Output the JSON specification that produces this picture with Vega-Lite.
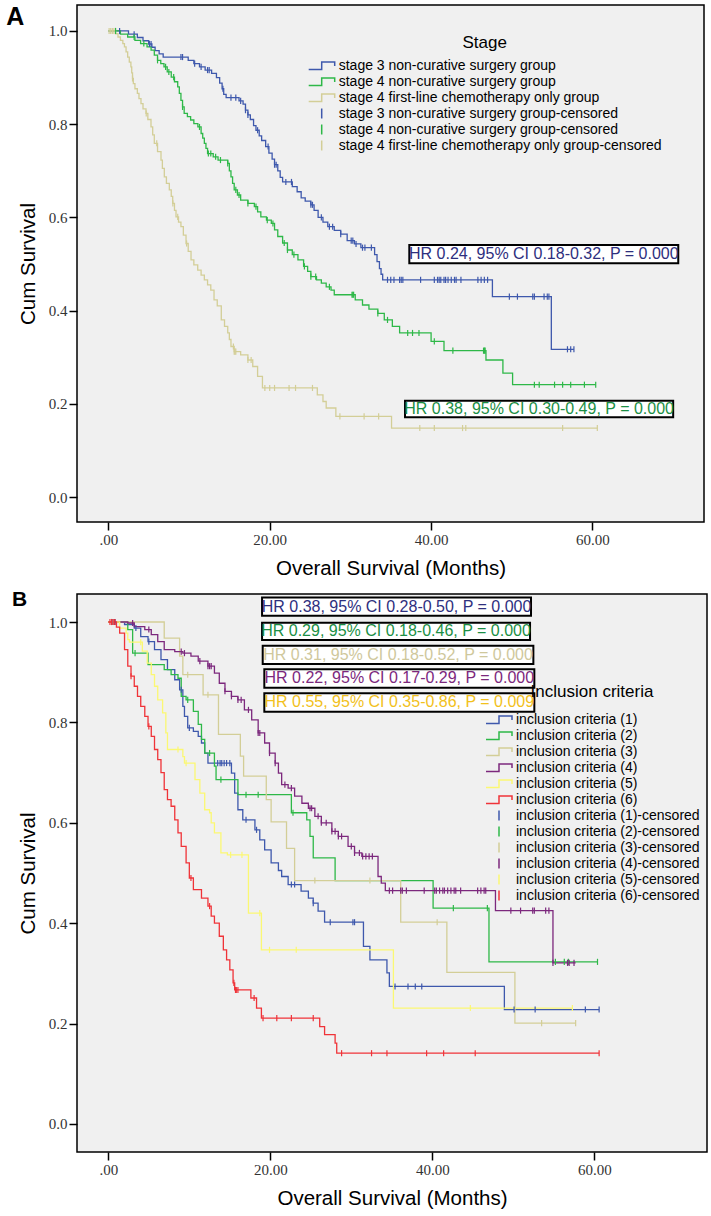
{
"$schema":"https://vega.github.io/schema/vega-lite/v6.json",
"padding":{"left":5,"top":4,"right":0,"bottom":0},
"background":"white",
"config":{
 "view":{"fill":"#f0f0f0","stroke":"#000","strokeWidth":1.5},
 "font":"Liberation Sans",
 "axis":{"domain":false,"grid":false,"ticks":true,"tickColor":"#000","tickWidth":1.5,"tickSize":8,"labelFont":"Liberation Serif","labelFontSize":15,"labelColor":"#333","titleFont":"Liberation Sans","titleFontSize":20.5,"titleFontWeight":"normal","titleColor":"#000"},
 "legend":{"labelFont":"Liberation Sans","labelFontSize":14,"labelColor":"#000","labelLimit":600,"titleFont":"Liberation Sans","titleFontSize":17,"titleFontWeight":"normal","titleColor":"#000","titleAnchor":"middle","symbolSize":676,"symbolStrokeWidth":1.5,"symbolFillColor":"transparent","symbolOpacity":1,"clipHeight":16,"rowPadding":0,"labelOffset":3,"padding":0},
 "title":{"font":"Liberation Sans","fontWeight":"bold","color":"#000"}
},
"datasets":{
 "namesA":[{"g":"a","name":"stage 3 non-curative surgery group"},{"g":"b","name":"stage 4 non-curative surgery group"},{"g":"c","name":"stage 4 first-line chemotherapy only group"},{"g":"ac","name":"stage 3 non-curative surgery group-censored"},{"g":"bc","name":"stage 4 non-curative surgery group-censored"},{"g":"cc","name":"stage 4 first-line chemotherapy only group-censored"}],
 "namesB":[{"g":"1","name":"inclusion criteria (1)"},{"g":"2","name":"inclusion criteria (2)"},{"g":"3","name":"inclusion criteria (3)"},{"g":"4","name":"inclusion criteria (4)"},{"g":"5","name":"inclusion criteria (5)"},{"g":"6","name":"inclusion criteria (6)"},{"g":"1c","name":"inclusion criteria (1)-censored"},{"g":"2c","name":"inclusion criteria (2)-censored"},{"g":"3c","name":"inclusion criteria (3)-censored"},{"g":"4c","name":"inclusion criteria (4)-censored"},{"g":"5c","name":"inclusion criteria (5)-censored"},{"g":"6c","name":"inclusion criteria (6)-censored"}],
 "curvesA":[
{"g":"a","t":0,"s":1},{"g":"a","t":2.5,"s":0.993},{"g":"a","t":3.6,"s":0.986},{"g":"a","t":4.3,"s":0.979},{"g":"a","t":5.0,"s":0.972},{"g":"a","t":5.4,"s":0.965},{"g":"a","t":5.8,"s":0.958},{"g":"a","t":6.3,"s":0.951},{"g":"a","t":6.8,"s":0.944},{"g":"a","t":9.9,"s":0.937},{"g":"a","t":10.6,"s":0.93},{"g":"a","t":11.3,"s":0.923},{"g":"a","t":12.0,"s":0.916},{"g":"a","t":12.8,"s":0.909},{"g":"a","t":13.4,"s":0.9},{"g":"a","t":13.8,"s":0.888},{"g":"a","t":14.1,"s":0.876},{"g":"a","t":14.3,"s":0.864},{"g":"a","t":14.6,"s":0.857},{"g":"a","t":16.2,"s":0.85},{"g":"a","t":16.7,"s":0.843},{"g":"a","t":17.0,"s":0.83},{"g":"a","t":17.3,"s":0.82},{"g":"a","t":17.6,"s":0.81},{"g":"a","t":18.0,"s":0.797},{"g":"a","t":18.3,"s":0.787},{"g":"a","t":18.7,"s":0.775},{"g":"a","t":19.0,"s":0.765},{"g":"a","t":19.5,"s":0.752},{"g":"a","t":19.9,"s":0.738},{"g":"a","t":20.3,"s":0.725},{"g":"a","t":20.6,"s":0.713},{"g":"a","t":21.0,"s":0.7},{"g":"a","t":21.3,"s":0.686},{"g":"a","t":21.6,"s":0.676},{"g":"a","t":22.8,"s":0.666},{"g":"a","t":23.4,"s":0.655},{"g":"a","t":23.9,"s":0.642},{"g":"a","t":24.4,"s":0.635},{"g":"a","t":25.1,"s":0.627},{"g":"a","t":25.5,"s":0.615},{"g":"a","t":26.0,"s":0.6},{"g":"a","t":26.6,"s":0.59},{"g":"a","t":27.2,"s":0.58},{"g":"a","t":28.0,"s":0.572},{"g":"a","t":28.8,"s":0.564},{"g":"a","t":29.6,"s":0.55},{"g":"a","t":30.5,"s":0.543},{"g":"a","t":31.3,"s":0.535},{"g":"a","t":33.0,"s":0.52},{"g":"a","t":33.3,"s":0.505},{"g":"a","t":33.6,"s":0.49},{"g":"a","t":33.8,"s":0.478},{"g":"a","t":34.0,"s":0.466},{"g":"a","t":47.6,"s":0.43},{"g":"a","t":54.9,"s":0.317},{"g":"a","t":57.7,"s":0.317},
{"g":"b","t":0,"s":1},{"g":"b","t":1.5,"s":0.993},{"g":"b","t":2.4,"s":0.987},{"g":"b","t":3.3,"s":0.98},{"g":"b","t":4.0,"s":0.973},{"g":"b","t":4.8,"s":0.966},{"g":"b","t":5.3,"s":0.959},{"g":"b","t":5.7,"s":0.948},{"g":"b","t":6.1,"s":0.937},{"g":"b","t":6.5,"s":0.93},{"g":"b","t":6.9,"s":0.923},{"g":"b","t":7.3,"s":0.912},{"g":"b","t":7.8,"s":0.901},{"g":"b","t":8.2,"s":0.891},{"g":"b","t":8.6,"s":0.88},{"g":"b","t":8.8,"s":0.866},{"g":"b","t":9.0,"s":0.851},{"g":"b","t":9.2,"s":0.837},{"g":"b","t":9.4,"s":0.823},{"g":"b","t":9.8,"s":0.816},{"g":"b","t":10.2,"s":0.809},{"g":"b","t":10.6,"s":0.801},{"g":"b","t":11.1,"s":0.794},{"g":"b","t":11.5,"s":0.78},{"g":"b","t":11.7,"s":0.77},{"g":"b","t":11.9,"s":0.759},{"g":"b","t":12.1,"s":0.748},{"g":"b","t":12.3,"s":0.737},{"g":"b","t":13.0,"s":0.73},{"g":"b","t":13.6,"s":0.723},{"g":"b","t":14.8,"s":0.716},{"g":"b","t":15.0,"s":0.7},{"g":"b","t":15.2,"s":0.687},{"g":"b","t":15.4,"s":0.673},{"g":"b","t":15.6,"s":0.659},{"g":"b","t":16.0,"s":0.648},{"g":"b","t":16.4,"s":0.637},{"g":"b","t":17.3,"s":0.63},{"g":"b","t":18.1,"s":0.623},{"g":"b","t":18.5,"s":0.612},{"g":"b","t":18.9,"s":0.601},{"g":"b","t":19.6,"s":0.594},{"g":"b","t":20.2,"s":0.587},{"g":"b","t":20.6,"s":0.573},{"g":"b","t":21.0,"s":0.559},{"g":"b","t":21.6,"s":0.545},{"g":"b","t":22.2,"s":0.53},{"g":"b","t":22.8,"s":0.52},{"g":"b","t":23.5,"s":0.509},{"g":"b","t":24.2,"s":0.495},{"g":"b","t":24.7,"s":0.484},{"g":"b","t":25.1,"s":0.473},{"g":"b","t":25.8,"s":0.466},{"g":"b","t":26.4,"s":0.459},{"g":"b","t":27.0,"s":0.451},{"g":"b","t":27.6,"s":0.444},{"g":"b","t":28.0,"s":0.434},{"g":"b","t":30.6,"s":0.423},{"g":"b","t":31.5,"s":0.412},{"g":"b","t":32.3,"s":0.403},{"g":"b","t":33.4,"s":0.394},{"g":"b","t":34.2,"s":0.38},{"g":"b","t":35.2,"s":0.366},{"g":"b","t":36.1,"s":0.352},{"g":"b","t":40.0,"s":0.334},{"g":"b","t":41.6,"s":0.314},{"g":"b","t":46.8,"s":0.294},{"g":"b","t":48.9,"s":0.266},{"g":"b","t":50.1,"s":0.241},{"g":"b","t":60.4,"s":0.241},
{"g":"c","t":0,"s":1},{"g":"c","t":0.9,"s":0.994},{"g":"c","t":1.2,"s":0.987},{"g":"c","t":1.5,"s":0.98},{"g":"c","t":1.8,"s":0.973},{"g":"c","t":2.0,"s":0.966},{"g":"c","t":2.2,"s":0.955},{"g":"c","t":2.4,"s":0.944},{"g":"c","t":2.6,"s":0.933},{"g":"c","t":2.8,"s":0.923},{"g":"c","t":2.9,"s":0.91},{"g":"c","t":3.0,"s":0.898},{"g":"c","t":3.1,"s":0.887},{"g":"c","t":3.3,"s":0.876},{"g":"c","t":3.6,"s":0.866},{"g":"c","t":3.8,"s":0.855},{"g":"c","t":4.05,"s":0.844},{"g":"c","t":4.3,"s":0.833},{"g":"c","t":4.67,"s":0.823},{"g":"c","t":4.9,"s":0.81},{"g":"c","t":5.29,"s":0.794},{"g":"c","t":5.5,"s":0.777},{"g":"c","t":5.7,"s":0.759},{"g":"c","t":6.1,"s":0.741},{"g":"c","t":6.53,"s":0.723},{"g":"c","t":6.7,"s":0.705},{"g":"c","t":6.94,"s":0.687},{"g":"c","t":7.2,"s":0.673},{"g":"c","t":7.56,"s":0.659},{"g":"c","t":7.8,"s":0.645},{"g":"c","t":7.98,"s":0.63},{"g":"c","t":8.2,"s":0.615},{"g":"c","t":8.39,"s":0.601},{"g":"c","t":8.7,"s":0.59},{"g":"c","t":9.0,"s":0.58},{"g":"c","t":9.3,"s":0.562},{"g":"c","t":9.63,"s":0.544},{"g":"c","t":9.9,"s":0.527},{"g":"c","t":10.25,"s":0.509},{"g":"c","t":10.6,"s":0.498},{"g":"c","t":11.08,"s":0.487},{"g":"c","t":11.5,"s":0.476},{"g":"c","t":11.9,"s":0.466},{"g":"c","t":12.3,"s":0.455},{"g":"c","t":12.7,"s":0.444},{"g":"c","t":13.1,"s":0.423},{"g":"c","t":13.5,"s":0.41},{"g":"c","t":14.0,"s":0.38},{"g":"c","t":14.4,"s":0.366},{"g":"c","t":14.8,"s":0.352},{"g":"c","t":15.0,"s":0.338},{"g":"c","t":15.2,"s":0.323},{"g":"c","t":15.6,"s":0.312},{"g":"c","t":16.4,"s":0.305},{"g":"c","t":17.3,"s":0.294},{"g":"c","t":17.9,"s":0.28},{"g":"c","t":18.5,"s":0.259},{"g":"c","t":19.1,"s":0.234},{"g":"c","t":25.9,"s":0.219},{"g":"c","t":26.6,"s":0.205},{"g":"c","t":27.0,"s":0.191},{"g":"c","t":28.2,"s":0.173},{"g":"c","t":35.1,"s":0.148},{"g":"c","t":60.6,"s":0.148}
 ],
 "censA":[
{"g":"ac","t":1.4,"s":1},{"g":"ac","t":3.2,"s":0.993},{"g":"ac","t":5.1,"s":0.972},{"g":"ac","t":5.3,"s":0.972},{"g":"ac","t":9.0,"s":0.944},{"g":"ac","t":9.2,"s":0.944},{"g":"ac","t":10.7,"s":0.93},{"g":"ac","t":11.5,"s":0.923},{"g":"ac","t":12.3,"s":0.916},{"g":"ac","t":12.5,"s":0.916},{"g":"ac","t":14.2,"s":0.876},{"g":"ac","t":15.2,"s":0.857},{"g":"ac","t":15.8,"s":0.857},{"g":"ac","t":16.4,"s":0.85},{"g":"ac","t":17.0,"s":0.83},{"g":"ac","t":17.3,"s":0.82},{"g":"ac","t":18.5,"s":0.787},{"g":"ac","t":19.8,"s":0.752},{"g":"ac","t":20.6,"s":0.713},{"g":"ac","t":20.8,"s":0.713},{"g":"ac","t":22.0,"s":0.676},{"g":"ac","t":22.7,"s":0.676},{"g":"ac","t":25.1,"s":0.627},{"g":"ac","t":25.3,"s":0.627},{"g":"ac","t":26.4,"s":0.6},{"g":"ac","t":27.4,"s":0.58},{"g":"ac","t":27.8,"s":0.58},{"g":"ac","t":28.8,"s":0.564},{"g":"ac","t":30.1,"s":0.55},{"g":"ac","t":30.3,"s":0.55},{"g":"ac","t":30.7,"s":0.543},{"g":"ac","t":31.5,"s":0.535},{"g":"ac","t":31.8,"s":0.535},{"g":"ac","t":32.6,"s":0.535},{"g":"ac","t":34.6,"s":0.466},{"g":"ac","t":35.0,"s":0.466},{"g":"ac","t":35.4,"s":0.466},{"g":"ac","t":36.1,"s":0.466},{"g":"ac","t":36.3,"s":0.466},{"g":"ac","t":36.5,"s":0.466},{"g":"ac","t":38.7,"s":0.466},{"g":"ac","t":40.4,"s":0.466},{"g":"ac","t":40.8,"s":0.466},{"g":"ac","t":41.0,"s":0.466},{"g":"ac","t":41.2,"s":0.466},{"g":"ac","t":41.6,"s":0.466},{"g":"ac","t":41.8,"s":0.466},{"g":"ac","t":42.1,"s":0.466},{"g":"ac","t":42.5,"s":0.466},{"g":"ac","t":42.9,"s":0.466},{"g":"ac","t":43.1,"s":0.466},{"g":"ac","t":43.7,"s":0.466},{"g":"ac","t":45.8,"s":0.466},{"g":"ac","t":46.2,"s":0.466},{"g":"ac","t":46.6,"s":0.466},{"g":"ac","t":47.0,"s":0.466},{"g":"ac","t":49.7,"s":0.43},{"g":"ac","t":50.7,"s":0.43},{"g":"ac","t":52.6,"s":0.43},{"g":"ac","t":52.8,"s":0.43},{"g":"ac","t":54.0,"s":0.43},{"g":"ac","t":54.4,"s":0.43},{"g":"ac","t":54.6,"s":0.43},{"g":"ac","t":56.9,"s":0.317},{"g":"ac","t":57.3,"s":0.317},{"g":"ac","t":57.7,"s":0.317},
{"g":"bc","t":0.9,"s":1},{"g":"bc","t":3.2,"s":0.987},{"g":"bc","t":4.4,"s":0.973},{"g":"bc","t":6.1,"s":0.937},{"g":"bc","t":7.1,"s":0.923},{"g":"bc","t":7.5,"s":0.912},{"g":"bc","t":8.1,"s":0.901},{"g":"bc","t":9.2,"s":0.837},{"g":"bc","t":11.3,"s":0.794},{"g":"bc","t":12.4,"s":0.737},{"g":"bc","t":12.7,"s":0.737},{"g":"bc","t":13.3,"s":0.73},{"g":"bc","t":13.9,"s":0.723},{"g":"bc","t":14.8,"s":0.716},{"g":"bc","t":15.8,"s":0.659},{"g":"bc","t":16.2,"s":0.648},{"g":"bc","t":17.3,"s":0.63},{"g":"bc","t":18.3,"s":0.623},{"g":"bc","t":19.7,"s":0.594},{"g":"bc","t":20.4,"s":0.587},{"g":"bc","t":21.8,"s":0.545},{"g":"bc","t":22.2,"s":0.53},{"g":"bc","t":23.0,"s":0.52},{"g":"bc","t":24.3,"s":0.495},{"g":"bc","t":25.1,"s":0.473},{"g":"bc","t":25.7,"s":0.473},{"g":"bc","t":27.4,"s":0.451},{"g":"bc","t":30.2,"s":0.434},{"g":"bc","t":30.3,"s":0.434},{"g":"bc","t":30.4,"s":0.434},{"g":"bc","t":33.4,"s":0.394},{"g":"bc","t":34.6,"s":0.38},{"g":"bc","t":37.1,"s":0.352},{"g":"bc","t":37.7,"s":0.352},{"g":"bc","t":38.5,"s":0.352},{"g":"bc","t":40.4,"s":0.334},{"g":"bc","t":42.7,"s":0.314},{"g":"bc","t":46.5,"s":0.314},{"g":"bc","t":46.6,"s":0.314},{"g":"bc","t":46.7,"s":0.314},{"g":"bc","t":52.8,"s":0.241},{"g":"bc","t":53.4,"s":0.241},{"g":"bc","t":55.3,"s":0.241},{"g":"bc","t":56.3,"s":0.241},{"g":"bc","t":57.3,"s":0.241},{"g":"bc","t":59.0,"s":0.241},{"g":"bc","t":60.4,"s":0.241},
{"g":"cc","t":0.1,"s":1},{"g":"cc","t":0.3,"s":1},{"g":"cc","t":0.5,"s":1},{"g":"cc","t":0.7,"s":1},{"g":"cc","t":3.0,"s":0.898},{"g":"cc","t":4.7,"s":0.823},{"g":"cc","t":6.0,"s":0.759},{"g":"cc","t":8.0,"s":0.63},{"g":"cc","t":8.6,"s":0.601},{"g":"cc","t":9.7,"s":0.544},{"g":"cc","t":15.5,"s":0.323},{"g":"cc","t":15.6,"s":0.312},{"g":"cc","t":15.7,"s":0.312},{"g":"cc","t":15.8,"s":0.312},{"g":"cc","t":17.3,"s":0.294},{"g":"cc","t":17.7,"s":0.294},{"g":"cc","t":19.4,"s":0.234},{"g":"cc","t":20.0,"s":0.234},{"g":"cc","t":20.6,"s":0.234},{"g":"cc","t":22.4,"s":0.234},{"g":"cc","t":23.2,"s":0.234},{"g":"cc","t":25.3,"s":0.234},{"g":"cc","t":28.7,"s":0.173},{"g":"cc","t":31.7,"s":0.173},{"g":"cc","t":33.5,"s":0.173},{"g":"cc","t":38.6,"s":0.148},{"g":"cc","t":40.4,"s":0.148},{"g":"cc","t":43.9,"s":0.148},{"g":"cc","t":44.3,"s":0.148},{"g":"cc","t":56.3,"s":0.148},{"g":"cc","t":60.6,"s":0.148}
 ],
 "boxesA":[
{"g":"a","label":"HR 0.24, 95% CI 0.18-0.32, P = 0.000","t0":37.3,"t1":70.63,"s0":0.5016,"s1":0.5409,"tc":53.97,"sc":0.5212},
{"g":"b","label":"HR 0.38, 95% CI 0.30-0.49, P = 0.000","t0":36.77,"t1":70.0,"s0":0.1712,"s1":0.2068,"tc":53.39,"sc":0.189}
 ],
 "curvesB":[
{"g":"1","t":0,"s":1},{"g":"1","t":2.0,"s":0.995},{"g":"1","t":3.2,"s":0.988},{"g":"1","t":4.0,"s":0.971},{"g":"1","t":4.9,"s":0.961},{"g":"1","t":5.7,"s":0.945},{"g":"1","t":6.5,"s":0.925},{"g":"1","t":7.3,"s":0.905},{"g":"1","t":8.2,"s":0.885},{"g":"1","t":8.8,"s":0.865},{"g":"1","t":9.2,"s":0.832},{"g":"1","t":9.4,"s":0.812},{"g":"1","t":9.8,"s":0.789},{"g":"1","t":10.5,"s":0.782},{"g":"1","t":11.1,"s":0.772},{"g":"1","t":11.5,"s":0.759},{"g":"1","t":11.9,"s":0.739},{"g":"1","t":12.3,"s":0.719},{"g":"1","t":15.2,"s":0.699},{"g":"1","t":15.6,"s":0.659},{"g":"1","t":16.0,"s":0.626},{"g":"1","t":16.6,"s":0.606},{"g":"1","t":18.1,"s":0.586},{"g":"1","t":18.7,"s":0.566},{"g":"1","t":19.3,"s":0.546},{"g":"1","t":20.1,"s":0.52},{"g":"1","t":21.0,"s":0.505},{"g":"1","t":21.4,"s":0.493},{"g":"1","t":22.2,"s":0.477},{"g":"1","t":23.8,"s":0.464},{"g":"1","t":24.7,"s":0.45},{"g":"1","t":25.3,"s":0.44},{"g":"1","t":25.9,"s":0.424},{"g":"1","t":26.7,"s":0.402},{"g":"1","t":31.5,"s":0.354},{"g":"1","t":32.3,"s":0.327},{"g":"1","t":34.4,"s":0.301},{"g":"1","t":34.7,"s":0.274},{"g":"1","t":48.9,"s":0.228},{"g":"1","t":60.6,"s":0.228},
{"g":"2","t":0,"s":1},{"g":"2","t":2.4,"s":0.985},{"g":"2","t":3.0,"s":0.938},{"g":"2","t":4.9,"s":0.915},{"g":"2","t":6.9,"s":0.905},{"g":"2","t":7.75,"s":0.895},{"g":"2","t":8.6,"s":0.888},{"g":"2","t":9.0,"s":0.852},{"g":"2","t":9.6,"s":0.845},{"g":"2","t":10.5,"s":0.822},{"g":"2","t":11.1,"s":0.796},{"g":"2","t":11.5,"s":0.766},{"g":"2","t":11.9,"s":0.739},{"g":"2","t":13.1,"s":0.713},{"g":"2","t":13.3,"s":0.686},{"g":"2","t":16.0,"s":0.656},{"g":"2","t":22.6,"s":0.62},{"g":"2","t":24.5,"s":0.606},{"g":"2","t":24.9,"s":0.573},{"g":"2","t":25.3,"s":0.53},{"g":"2","t":28.0,"s":0.485},{"g":"2","t":40.1,"s":0.43},{"g":"2","t":47.0,"s":0.323},{"g":"2","t":60.4,"s":0.323},
{"g":"3","t":0,"s":1},{"g":"3","t":6.9,"s":0.968},{"g":"3","t":8.8,"s":0.932},{"g":"3","t":9.2,"s":0.895},{"g":"3","t":11.7,"s":0.855},{"g":"3","t":13.6,"s":0.776},{"g":"3","t":16.3,"s":0.733},{"g":"3","t":16.7,"s":0.693},{"g":"3","t":19.5,"s":0.646},{"g":"3","t":20.1,"s":0.602},{"g":"3","t":22.0,"s":0.549},{"g":"3","t":23.0,"s":0.485},{"g":"3","t":36.1,"s":0.402},{"g":"3","t":41.8,"s":0.302},{"g":"3","t":50.2,"s":0.201},{"g":"3","t":57.7,"s":0.201},
{"g":"4","t":0,"s":1},{"g":"4","t":2.4,"s":0.998},{"g":"4","t":3.2,"s":0.991},{"g":"4","t":4.5,"s":0.985},{"g":"4","t":5.3,"s":0.975},{"g":"4","t":6.1,"s":0.961},{"g":"4","t":6.9,"s":0.945},{"g":"4","t":8.2,"s":0.941},{"g":"4","t":9.2,"s":0.938},{"g":"4","t":10.2,"s":0.932},{"g":"4","t":11.1,"s":0.922},{"g":"4","t":12.3,"s":0.912},{"g":"4","t":13.1,"s":0.898},{"g":"4","t":13.7,"s":0.878},{"g":"4","t":14.4,"s":0.862},{"g":"4","t":15.2,"s":0.852},{"g":"4","t":16.0,"s":0.845},{"g":"4","t":16.8,"s":0.825},{"g":"4","t":17.7,"s":0.805},{"g":"4","t":18.5,"s":0.779},{"g":"4","t":19.3,"s":0.759},{"g":"4","t":19.9,"s":0.739},{"g":"4","t":20.6,"s":0.719},{"g":"4","t":21.0,"s":0.699},{"g":"4","t":21.4,"s":0.676},{"g":"4","t":22.2,"s":0.669},{"g":"4","t":23.0,"s":0.653},{"g":"4","t":23.9,"s":0.639},{"g":"4","t":24.7,"s":0.629},{"g":"4","t":25.5,"s":0.613},{"g":"4","t":26.3,"s":0.6},{"g":"4","t":27.6,"s":0.583},{"g":"4","t":28.4,"s":0.573},{"g":"4","t":29.6,"s":0.553},{"g":"4","t":30.4,"s":0.54},{"g":"4","t":31.3,"s":0.533},{"g":"4","t":33.3,"s":0.493},{"g":"4","t":33.7,"s":0.48},{"g":"4","t":34.2,"s":0.465},{"g":"4","t":47.8,"s":0.425},{"g":"4","t":54.9,"s":0.321},{"g":"4","t":57.7,"s":0.321},
{"g":"5","t":0,"s":1},{"g":"5","t":1.4,"s":0.988},{"g":"5","t":2.2,"s":0.978},{"g":"5","t":2.4,"s":0.965},{"g":"5","t":2.6,"s":0.96},{"g":"5","t":4.2,"s":0.942},{"g":"5","t":4.8,"s":0.918},{"g":"5","t":5.3,"s":0.895},{"g":"5","t":5.7,"s":0.872},{"g":"5","t":6.1,"s":0.845},{"g":"5","t":6.7,"s":0.819},{"g":"5","t":7.1,"s":0.779},{"g":"5","t":7.3,"s":0.746},{"g":"5","t":9.2,"s":0.732},{"g":"5","t":9.4,"s":0.719},{"g":"5","t":10.7,"s":0.686},{"g":"5","t":11.3,"s":0.659},{"g":"5","t":11.9,"s":0.626},{"g":"5","t":12.5,"s":0.62},{"g":"5","t":12.7,"s":0.6},{"g":"5","t":13.1,"s":0.58},{"g":"5","t":13.9,"s":0.54},{"g":"5","t":14.7,"s":0.536},{"g":"5","t":17.3,"s":0.42},{"g":"5","t":18.9,"s":0.347},{"g":"5","t":35.2,"s":0.231},{"g":"5","t":57.3,"s":0.231},
{"g":"6","t":0,"s":1},{"g":"6","t":1.0,"s":0.99},{"g":"6","t":1.4,"s":0.978},{"g":"6","t":2.0,"s":0.945},{"g":"6","t":2.4,"s":0.912},{"g":"6","t":2.8,"s":0.892},{"g":"6","t":3.2,"s":0.872},{"g":"6","t":3.6,"s":0.852},{"g":"6","t":4.0,"s":0.832},{"g":"6","t":4.5,"s":0.812},{"g":"6","t":4.9,"s":0.792},{"g":"6","t":5.3,"s":0.772},{"g":"6","t":5.7,"s":0.746},{"g":"6","t":6.1,"s":0.726},{"g":"6","t":6.5,"s":0.7},{"g":"6","t":6.9,"s":0.666},{"g":"6","t":7.3,"s":0.646},{"g":"6","t":7.75,"s":0.633},{"g":"6","t":8.2,"s":0.606},{"g":"6","t":8.6,"s":0.58},{"g":"6","t":9.0,"s":0.553},{"g":"6","t":9.6,"s":0.52},{"g":"6","t":10.0,"s":0.49},{"g":"6","t":10.5,"s":0.467},{"g":"6","t":11.5,"s":0.45},{"g":"6","t":12.3,"s":0.434},{"g":"6","t":12.7,"s":0.414},{"g":"6","t":13.1,"s":0.4},{"g":"6","t":13.7,"s":0.374},{"g":"6","t":14.2,"s":0.347},{"g":"6","t":14.6,"s":0.327},{"g":"6","t":15.0,"s":0.307},{"g":"6","t":15.4,"s":0.281},{"g":"6","t":15.6,"s":0.267},{"g":"6","t":17.6,"s":0.251},{"g":"6","t":18.3,"s":0.231},{"g":"6","t":18.9,"s":0.211},{"g":"6","t":26.1,"s":0.194},{"g":"6","t":26.7,"s":0.178},{"g":"6","t":28.0,"s":0.161},{"g":"6","t":28.2,"s":0.141},{"g":"6","t":60.6,"s":0.141}
 ],
 "censB":[
{"g":"1c","t":0.5,"s":1},{"g":"1c","t":0.8,"s":1},{"g":"1c","t":3.4,"s":0.988},{"g":"1c","t":5.0,"s":0.961},{"g":"1c","t":9.0,"s":0.865},{"g":"1c","t":10.0,"s":0.789},{"g":"1c","t":13.5,"s":0.719},{"g":"1c","t":13.8,"s":0.719},{"g":"1c","t":14.0,"s":0.719},{"g":"1c","t":14.3,"s":0.719},{"g":"1c","t":14.6,"s":0.719},{"g":"1c","t":15.0,"s":0.719},{"g":"1c","t":17.0,"s":0.606},{"g":"1c","t":18.3,"s":0.586},{"g":"1c","t":22.6,"s":0.477},{"g":"1c","t":23.0,"s":0.477},{"g":"1c","t":25.3,"s":0.44},{"g":"1c","t":27.4,"s":0.402},{"g":"1c","t":30.2,"s":0.402},{"g":"1c","t":30.4,"s":0.402},{"g":"1c","t":35.4,"s":0.274},{"g":"1c","t":37.0,"s":0.274},{"g":"1c","t":37.9,"s":0.274},{"g":"1c","t":38.7,"s":0.274},{"g":"1c","t":50.1,"s":0.228},{"g":"1c","t":52.7,"s":0.228},{"g":"1c","t":58.9,"s":0.228},{"g":"1c","t":60.6,"s":0.228},
{"g":"2c","t":3.3,"s":0.938},{"g":"2c","t":9.8,"s":0.845},{"g":"2c","t":12.5,"s":0.739},{"g":"2c","t":13.9,"s":0.686},{"g":"2c","t":17.0,"s":0.656},{"g":"2c","t":18.5,"s":0.656},{"g":"2c","t":22.8,"s":0.62},{"g":"2c","t":42.6,"s":0.43},{"g":"2c","t":46.8,"s":0.43},{"g":"2c","t":55.2,"s":0.323},{"g":"2c","t":56.3,"s":0.323},{"g":"2c","t":56.8,"s":0.323},{"g":"2c","t":60.4,"s":0.323},
{"g":"3c","t":0.6,"s":1},{"g":"3c","t":9.8,"s":0.895},{"g":"3c","t":12.3,"s":0.855},{"g":"3c","t":25.5,"s":0.485},{"g":"3c","t":32.3,"s":0.485},{"g":"3c","t":40.6,"s":0.402},{"g":"3c","t":53.5,"s":0.201},{"g":"3c","t":57.7,"s":0.201},
{"g":"4c","t":0.8,"s":1},{"g":"4c","t":3.0,"s":0.998},{"g":"4c","t":5.0,"s":0.985},{"g":"4c","t":9.0,"s":0.941},{"g":"4c","t":9.4,"s":0.938},{"g":"4c","t":11.3,"s":0.922},{"g":"4c","t":12.3,"s":0.912},{"g":"4c","t":12.5,"s":0.912},{"g":"4c","t":12.7,"s":0.912},{"g":"4c","t":14.4,"s":0.862},{"g":"4c","t":15.2,"s":0.852},{"g":"4c","t":16.0,"s":0.845},{"g":"4c","t":16.4,"s":0.845},{"g":"4c","t":17.3,"s":0.825},{"g":"4c","t":18.5,"s":0.779},{"g":"4c","t":18.7,"s":0.779},{"g":"4c","t":19.9,"s":0.739},{"g":"4c","t":20.6,"s":0.719},{"g":"4c","t":21.8,"s":0.676},{"g":"4c","t":22.6,"s":0.669},{"g":"4c","t":24.9,"s":0.629},{"g":"4c","t":25.1,"s":0.629},{"g":"4c","t":25.9,"s":0.613},{"g":"4c","t":26.3,"s":0.6},{"g":"4c","t":26.9,"s":0.6},{"g":"4c","t":27.6,"s":0.583},{"g":"4c","t":28.0,"s":0.583},{"g":"4c","t":28.4,"s":0.573},{"g":"4c","t":28.8,"s":0.573},{"g":"4c","t":30.0,"s":0.553},{"g":"4c","t":30.4,"s":0.54},{"g":"4c","t":31.0,"s":0.54},{"g":"4c","t":31.4,"s":0.533},{"g":"4c","t":31.8,"s":0.533},{"g":"4c","t":32.2,"s":0.533},{"g":"4c","t":32.6,"s":0.533},{"g":"4c","t":34.7,"s":0.465},{"g":"4c","t":35.1,"s":0.465},{"g":"4c","t":36.1,"s":0.465},{"g":"4c","t":36.3,"s":0.465},{"g":"4c","t":36.8,"s":0.465},{"g":"4c","t":39.0,"s":0.465},{"g":"4c","t":40.3,"s":0.465},{"g":"4c","t":40.5,"s":0.465},{"g":"4c","t":40.9,"s":0.465},{"g":"4c","t":41.3,"s":0.465},{"g":"4c","t":41.5,"s":0.465},{"g":"4c","t":41.9,"s":0.465},{"g":"4c","t":42.3,"s":0.465},{"g":"4c","t":42.7,"s":0.465},{"g":"4c","t":42.9,"s":0.465},{"g":"4c","t":43.5,"s":0.465},{"g":"4c","t":45.6,"s":0.465},{"g":"4c","t":46.0,"s":0.465},{"g":"4c","t":46.4,"s":0.465},{"g":"4c","t":46.6,"s":0.465},{"g":"4c","t":49.7,"s":0.425},{"g":"4c","t":50.9,"s":0.425},{"g":"4c","t":52.4,"s":0.425},{"g":"4c","t":52.6,"s":0.425},{"g":"4c","t":54.0,"s":0.425},{"g":"4c","t":54.4,"s":0.425},{"g":"4c","t":54.9,"s":0.321},{"g":"4c","t":56.7,"s":0.321},{"g":"4c","t":56.9,"s":0.321},{"g":"4c","t":57.5,"s":0.321},
{"g":"5c","t":4.0,"s":0.96},{"g":"5c","t":8.6,"s":0.746},{"g":"5c","t":9.6,"s":0.719},{"g":"5c","t":15.1,"s":0.536},{"g":"5c","t":16.5,"s":0.536},{"g":"5c","t":18.7,"s":0.42},{"g":"5c","t":19.9,"s":0.347},{"g":"5c","t":23.2,"s":0.347},{"g":"5c","t":44.7,"s":0.231},{"g":"5c","t":57.3,"s":0.231},
{"g":"6c","t":0.2,"s":1},{"g":"6c","t":0.4,"s":1},{"g":"6c","t":0.6,"s":1},{"g":"6c","t":0.8,"s":1},{"g":"6c","t":2.8,"s":0.892},{"g":"6c","t":5.0,"s":0.792},{"g":"6c","t":10.2,"s":0.49},{"g":"6c","t":12.5,"s":0.434},{"g":"6c","t":15.5,"s":0.281},{"g":"6c","t":15.7,"s":0.267},{"g":"6c","t":15.8,"s":0.267},{"g":"6c","t":16.0,"s":0.267},{"g":"6c","t":18.0,"s":0.251},{"g":"6c","t":19.1,"s":0.211},{"g":"6c","t":20.8,"s":0.211},{"g":"6c","t":22.6,"s":0.211},{"g":"6c","t":25.3,"s":0.211},{"g":"6c","t":28.8,"s":0.141},{"g":"6c","t":32.5,"s":0.141},{"g":"6c","t":34.4,"s":0.141},{"g":"6c","t":39.3,"s":0.141},{"g":"6c","t":41.4,"s":0.141},{"g":"6c","t":45.3,"s":0.141},{"g":"6c","t":60.6,"s":0.141}
 ],
 "boxesB":[
{"g":"1","label":"HR 0.38, 95% CI 0.28-0.50, P = 0.000","t0":18.98,"t1":52.19,"s0":1.0125,"s1":1.0488,"tc":35.59,"sc":1.0307},
{"g":"2","label":"HR 0.29, 95% CI 0.18-0.46, P = 0.000","t0":18.98,"t1":52.07,"s0":0.9642,"s1":0.9986,"tc":35.52,"sc":0.9814},
{"g":"3","label":"HR 0.31, 95% CI 0.18-0.52, P = 0.000","t0":19.06,"t1":52.48,"s0":0.9164,"s1":0.9528,"tc":35.77,"sc":0.9346},
{"g":"4","label":"HR 0.22, 95% CI 0.17-0.29, P = 0.000","t0":19.26,"t1":52.6,"s0":0.8692,"s1":0.9058,"tc":35.93,"sc":0.8875},
{"g":"5","label":"HR 0.55, 95% CI 0.35-0.86, P = 0.009","t0":19.26,"t1":52.6,"s0":0.8214,"s1":0.8581,"tc":35.93,"sc":0.8397}
 ]
},
"vconcat":[
 {
  "width":627,"height":517,
  "title":{"text":"A","orient":"left","anchor":"end","frame":"group","angle":0,"align":"right","baseline":"top","offset":-24,"dy":0,"fontSize":25},
  "layer":[
   {"data":{"name":"curvesA"},
    "transform":[{"lookup":"g","from":{"data":{"name":"namesA"},"key":"g","fields":["name"]}}],
    "mark":{"type":"line","interpolate":"step-after","strokeWidth":1.3},
    "encoding":{
     "x":{"field":"t","type":"quantitative","scale":{"domain":[-3.88,73.82],"nice":false,"zero":false},"axis":{"values":[0,20,40,60],"labelExpr":"datum.value == 0 ? '.00' : format(datum.value, '.2f')","title":"Overall Survival (Months)","labelPadding":2,"titlePadding":11}},
     "y":{"field":"s","type":"quantitative","scale":{"domain":[-0.0536,1.0557],"nice":false,"zero":false},"axis":{"values":[0,0.2,0.4,0.6,0.8,1],"format":".1f","title":"Cum Survival","labelPadding":2,"titlePadding":10}},
     "color":{"field":"name","type":"nominal","scale":{"domain":["stage 3 non-curative surgery group","stage 4 non-curative surgery group","stage 4 first-line chemotherapy only group","stage 3 non-curative surgery group-censored","stage 4 non-curative surgery group-censored","stage 4 first-line chemotherapy only group-censored"],"range":["#3E58AC","#2EB848","#D3CE97","#3E58AC","#2EB848","#D3CE97"]},"legend":{"title":"Stage","orient":"none","legendX":230.7,"legendY":29.5,"titlePadding":6}}
    }},
   {"data":{"name":"censA"},
    "transform":[{"lookup":"g","from":{"data":{"name":"namesA"},"key":"g","fields":["name"]}}],
    "mark":{"type":"point","filled":false,"size":260,"strokeWidth":1.2,"opacity":1},
    "encoding":{
     "x":{"field":"t","type":"quantitative"},
     "y":{"field":"s","type":"quantitative"},
     "color":{"field":"name","type":"nominal","scale":{"domain":["stage 3 non-curative surgery group","stage 4 non-curative surgery group","stage 4 first-line chemotherapy only group","stage 3 non-curative surgery group-censored","stage 4 non-curative surgery group-censored","stage 4 first-line chemotherapy only group-censored"],"range":["#3E58AC","#2EB848","#D3CE97","#3E58AC","#2EB848","#D3CE97"]},"legend":{"title":"Stage","orient":"none","legendX":230.7,"legendY":29.5,"titlePadding":6}},
     "shape":{"field":"name","type":"nominal","scale":{"domain":["stage 3 non-curative surgery group","stage 4 non-curative surgery group","stage 4 first-line chemotherapy only group","stage 3 non-curative surgery group-censored","stage 4 non-curative surgery group-censored","stage 4 first-line chemotherapy only group-censored"],"range":["M-1,0.31H0V-0.27H1V0.04","M-1,0.31H0V-0.27H1V0.04","M-1,0.31H0V-0.27H1V0.04","M0,-0.38V0.38","M0,-0.38V0.38","M0,-0.38V0.38"]},"legend":{"title":"Stage","orient":"none","legendX":230.7,"legendY":29.5,"titlePadding":6}}
    }},
   {"data":{"name":"boxesA"},
    "mark":{"type":"rect","fill":"#ffffff","stroke":"#000000","strokeWidth":2},
    "encoding":{"x":{"field":"t0","type":"quantitative"},"x2":{"field":"t1"},"y":{"field":"s0","type":"quantitative"},"y2":{"field":"s1"}}},
   {"data":{"name":"boxesA"},
    "mark":{"type":"text","font":"Liberation Sans","fontSize":16,"align":"center","baseline":"middle"},
    "encoding":{"x":{"field":"tc","type":"quantitative"},"y":{"field":"sc","type":"quantitative"},"text":{"field":"label"},
     "fill":{"field":"g","type":"nominal","scale":{"domain":["a","b"],"range":["#2E2F7E","#1B8F45"]},"legend":null}}}
  ]
 },
 {
  "width":630,"height":558,
  "title":{"text":"B","orient":"left","anchor":"end","frame":"group","angle":0,"align":"right","baseline":"top","offset":-24,"dy":-5.5,"fontSize":21},
  "layer":[
   {"data":{"name":"curvesB"},
    "transform":[{"lookup":"g","from":{"data":{"name":"namesB"},"key":"g","fields":["name"]}}],
    "mark":{"type":"line","interpolate":"step-after","strokeWidth":1.3},
    "encoding":{
     "x":{"field":"t","type":"quantitative","scale":{"domain":[-3.87,73.92],"nice":false,"zero":false},"axis":{"values":[0,20,40,60],"labelExpr":"datum.value == 0 ? '.00' : format(datum.value, '.2f')","title":"Overall Survival (Months)","labelPadding":2,"titlePadding":11}},
     "y":{"field":"s","type":"quantitative","scale":{"domain":[-0.0558,1.0558],"nice":false,"zero":false},"axis":{"values":[0,0.2,0.4,0.6,0.8,1],"format":".1f","title":"Cum Survival","labelPadding":2,"titlePadding":10}},
     "color":{"field":"name","type":"nominal","scale":{"domain":["inclusion criteria (1)","inclusion criteria (2)","inclusion criteria (3)","inclusion criteria (4)","inclusion criteria (5)","inclusion criteria (6)","inclusion criteria (1)-censored","inclusion criteria (2)-censored","inclusion criteria (3)-censored","inclusion criteria (4)-censored","inclusion criteria (5)-censored","inclusion criteria (6)-censored"],"range":["#3E58AC","#2EB848","#D3CE97","#7C287D","#FBF873","#EF3338","#3E58AC","#2EB848","#D3CE97","#7C287D","#FBF873","#EF3338"]},"legend":{"title":"Inclusion criteria","orient":"none","legendX":408,"legendY":89.5,"titlePadding":11}}
    }},
   {"data":{"name":"censB"},
    "transform":[{"lookup":"g","from":{"data":{"name":"namesB"},"key":"g","fields":["name"]}}],
    "mark":{"type":"point","filled":false,"size":260,"strokeWidth":1.2,"opacity":1},
    "encoding":{
     "x":{"field":"t","type":"quantitative"},
     "y":{"field":"s","type":"quantitative"},
     "color":{"field":"name","type":"nominal","scale":{"domain":["inclusion criteria (1)","inclusion criteria (2)","inclusion criteria (3)","inclusion criteria (4)","inclusion criteria (5)","inclusion criteria (6)","inclusion criteria (1)-censored","inclusion criteria (2)-censored","inclusion criteria (3)-censored","inclusion criteria (4)-censored","inclusion criteria (5)-censored","inclusion criteria (6)-censored"],"range":["#3E58AC","#2EB848","#D3CE97","#7C287D","#FBF873","#EF3338","#3E58AC","#2EB848","#D3CE97","#7C287D","#FBF873","#EF3338"]},"legend":{"title":"Inclusion criteria","orient":"none","legendX":408,"legendY":89.5,"titlePadding":11}},
     "shape":{"field":"name","type":"nominal","scale":{"domain":["inclusion criteria (1)","inclusion criteria (2)","inclusion criteria (3)","inclusion criteria (4)","inclusion criteria (5)","inclusion criteria (6)","inclusion criteria (1)-censored","inclusion criteria (2)-censored","inclusion criteria (3)-censored","inclusion criteria (4)-censored","inclusion criteria (5)-censored","inclusion criteria (6)-censored"],"range":["M-1,0.31H0V-0.27H1V0.04","M-1,0.31H0V-0.27H1V0.04","M-1,0.31H0V-0.27H1V0.04","M-1,0.31H0V-0.27H1V0.04","M-1,0.31H0V-0.27H1V0.04","M-1,0.31H0V-0.27H1V0.04","M0,-0.38V0.38","M0,-0.38V0.38","M0,-0.38V0.38","M0,-0.38V0.38","M0,-0.38V0.38","M0,-0.38V0.38"]},"legend":{"title":"Inclusion criteria","orient":"none","legendX":408,"legendY":89.5,"titlePadding":11}}
    }},
   {"data":{"name":"boxesB"},
    "mark":{"type":"rect","fill":"#ffffff","stroke":"#000000","strokeWidth":2},
    "encoding":{"x":{"field":"t0","type":"quantitative"},"x2":{"field":"t1"},"y":{"field":"s0","type":"quantitative"},"y2":{"field":"s1"}}},
   {"data":{"name":"boxesB"},
    "mark":{"type":"text","font":"Liberation Sans","fontSize":16,"align":"center","baseline":"middle"},
    "encoding":{"x":{"field":"tc","type":"quantitative"},"y":{"field":"sc","type":"quantitative"},"text":{"field":"label"},
     "fill":{"field":"g","type":"nominal","scale":{"domain":["1","2","3","4","5"],"range":["#2E2F7E","#1B8F45","#CFC89C","#7C287D","#F2C11C"]},"legend":null}}}
  ]
 }
],
"spacing":72,
"bounds":"flush",
"resolve":{"scale":{"color":"independent","shape":"independent","fill":"independent"}}
}
